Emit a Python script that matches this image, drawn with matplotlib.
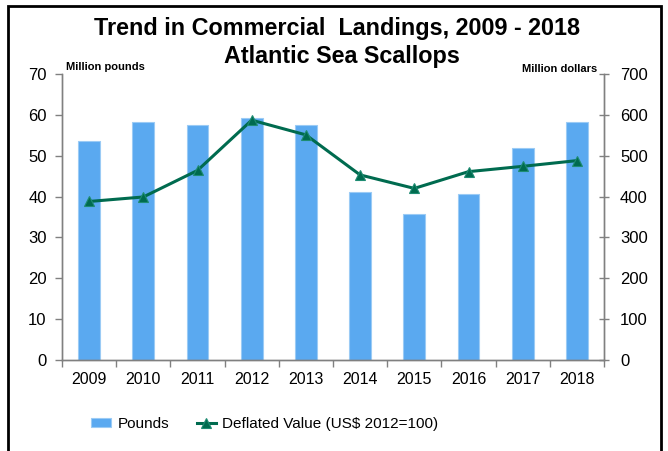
import matplotlib
matplotlib.use("Agg")
import matplotlib.pyplot as plt
from matplotlib.patches import Rectangle
import numpy as np

years = ["2009", "2010", "2011", "2012", "2013", "2014", "2015", "2016", "2017", "2018"]
pounds = [53.5, 58.3, 57.6, 59.2, 57.4, 41.1, 35.7, 40.6, 51.8, 58.3]
deflated_value = [388, 399, 464, 587, 551, 453, 420, 461, 474, 488]

plt.rcParams['font.family'] = ['Liberation Sans', 'DejaVu Sans']

fig = plt.figure(figsize=(6.68, 4.51), dpi=100)
ax = fig.add_axes([62/668, 1-360/451, (604-62)/668, (360-74)/451])
ax2 = ax.twinx()

x = np.arange(len(years))
bar_color = "#5AA9F0"
line_color = "#006B4F"
bars = ax.bar(x, pounds, width=0.4, color=bar_color, edgecolor="#9BCBF5", linewidth=0.8, label="Pounds", zorder=2)
ln, = ax2.plot(x, deflated_value, color=line_color, linewidth=2.2, marker="^", markersize=7,
               markerfacecolor=line_color, markeredgecolor="#1E8C72", markeredgewidth=0.8,
               label="Deflated Value (US$ 2012=100)", zorder=3)

ax.set_xlim(-0.5, len(years)-0.5)
ax.set_ylim(0, 70)
ax2.set_ylim(0, 700)
ax.set_yticks(range(0, 71, 10))
ax2.set_yticks(range(0, 701, 100))

ax.set_xticks(x)
ax.set_xticklabels(years, fontsize=11.5)
ax.set_xticks(np.arange(-0.5, len(years), 1), minor=True)
ax.tick_params(axis='x', which='major', length=0, pad=9)
ax.tick_params(axis='x', which='minor', length=5, direction='out', color='#808080', width=1)
ax.tick_params(axis='y', labelsize=12, length=5, direction='out', color='#808080', width=1, pad=6)
ax2.tick_params(axis='y', labelsize=12, length=7, direction='inout', color='#808080', width=1, pad=8)

for a in (ax, ax2):
    a.spines['top'].set_visible(False)
    for s in ('left', 'right', 'bottom'):
        a.spines[s].set_color('#808080')
        a.spines[s].set_linewidth(1)

ax.set_zorder(ax2.get_zorder() - 1)
ax2.patch.set_visible(False)

fig.text(337/668, 1-29/451, "Trend in Commercial  Landings, 2009 - 2018", ha='center', va='center',
         fontsize=16.8, fontweight='bold')
fig.text(342/668, 1-57/451, "Atlantic Sea Scallops", ha='center', va='center',
         fontsize=16.8, fontweight='bold')
fig.text(66/668, 1-67/451, "Million pounds", ha='left', va='center', fontsize=8, fontweight='bold')
fig.text(597/668, 1-69/451, "Million dollars", ha='right', va='center', fontsize=8, fontweight='bold')

fig.legend(handles=[bars, ln], labels=["Pounds", "Deflated Value (US$ 2012=100)"], loc='center',
           bbox_to_anchor=(265/668, 1-424/451), ncol=2, frameon=False, fontsize=11,
           handlelength=1.3, handleheight=0.6, columnspacing=1.8, handletextpad=0.4)

fig.add_artist(Rectangle((8/668, -0.05), (661-8)/668, 1.05 - 6/451, transform=fig.transFigure,
                         fill=False, edgecolor='black', linewidth=2))

fig.savefig("out.png", dpi=100)
